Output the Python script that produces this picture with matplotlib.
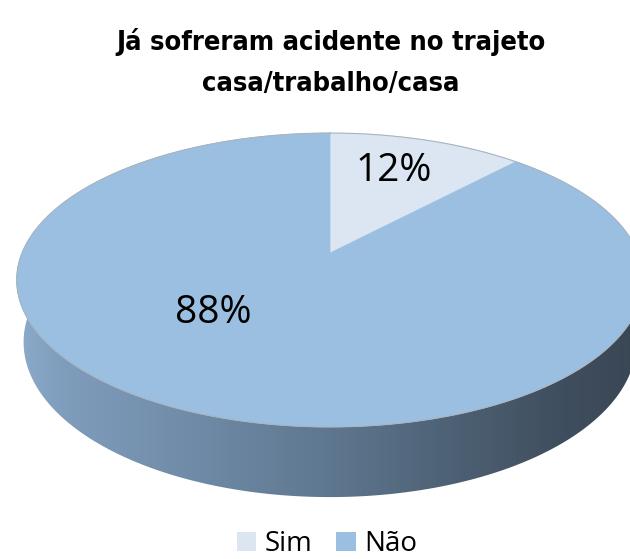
import numpy as np
import matplotlib.pyplot as plt
from matplotlib.patches import Polygon, Patch
from matplotlib.colors import LinearSegmentedColormap

# data
labels = ['Sim', 'Não']
values = [12, 88]
colors = ['#dbe6f2', '#9bbfe0']
title_lines = ['Já sofreram acidente no trajeto', 'casa/trabalho/casa']

# perspective view of the disk (pixel space)
cx, cy = 330, 253
scale = 308
elev = np.radians(27.45)
dist = 4.83
thick = 0.229


def project(theta, r=1.0, z=0.0):
    # theta runs clockwise starting at the far side of the disk
    x = r * np.sin(theta)
    y = r * np.cos(theta)
    v = y * np.sin(elev) + z * np.cos(elev)
    w = dist + y * np.cos(elev) - z * np.sin(elev)
    k = scale * dist / w
    return cx + x * k, cy - v * k


fig = plt.figure(figsize=(6.3, 5.59), dpi=100)
ax = fig.add_axes([0, 0, 1, 1])
ax.set_xlim(0, 630)
ax.set_ylim(559, 0)
ax.axis('off')

# side wall with a left-to-right shading
t_front = np.radians(np.linspace(60, 300, 300))
tx, ty = project(t_front)
bx, by = project(t_front[::-1], z=-thick)
side = Polygon(np.column_stack([np.r_[tx, bx], np.r_[ty, by]]),
               closed=True, facecolor='none', edgecolor='none')
ax.add_patch(side)
side_cmap = LinearSegmentedColormap.from_list('side', [
    (0.0, '#8eaccb'), (0.08, '#7f9dbc'), (0.3, '#6f8aa6'),
    (0.5, '#5f7891'), (0.72, '#4c5f72'), (0.88, '#3f4e5e'), (1.0, '#3a4654')])
grad = np.tile(np.linspace(0, 1, 256), (10, 1))
img = ax.imshow(grad, cmap=side_cmap, extent=(10, 640, 510, 250),
                aspect='auto', interpolation='bicubic')
img.set_clip_path(side)

# top face, one wedge per value
total = sum(values)
start = 0.0
for val, col in zip(values, colors):
    span = 2 * np.pi * val / total
    th = np.linspace(start, start + span, 200)
    px, py = project(th)
    pts = np.column_stack([np.r_[cx, px], np.r_[cy, py]])
    ax.add_patch(Polygon(pts, closed=True, facecolor=col, edgecolor=col,
                         linewidth=0.5))
    start += span

# thin rim outline
rx, ry = project(np.linspace(0, 2 * np.pi, 400))
ax.plot(rx, ry, color='#a9b4bf', linewidth=0.8)

# percentage labels
label_pos = [(np.radians(19.2), 0.70), (np.radians(222.7), 0.52)]
for val, (ang, rad) in zip(values, label_pos):
    lx, ly = project(ang, r=rad)
    ax.text(lx, ly + 2, f'{val}%', ha='center', va='center', fontsize=28,
            family='Open Sans', color='black')

# title, two lines on fixed baselines
for line, base in zip(title_lines, [50, 91]):
    ax.text(331, base, line, ha='center', va='baseline', fontsize=19.5,
            family='DejaVu Sans', stretch='condensed', weight='bold')

handles = [Patch(facecolor=c, edgecolor='none') for c in colors]
fig.legend(handles, labels, loc='center',
           bbox_to_anchor=(0.5 + 12 / 630, 1 - 544 / 559),
           ncol=2, frameon=False, handlelength=0.7, handleheight=0.7,
           handletextpad=0.3, columnspacing=0.85, borderpad=0.1,
           prop={'family': 'Open Sans', 'size': 20})

fig.savefig('out.png', dpi=100)
